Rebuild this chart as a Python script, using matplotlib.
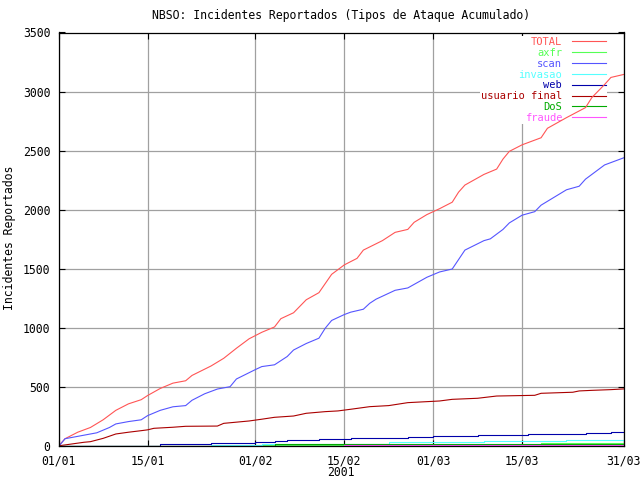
"""
NBSO incidents chart, gnuplot look-alike.
"""
import matplotlib
matplotlib.use("Agg")
import matplotlib.pyplot as plt
import matplotlib.dates as mdates
import pandas as pd

START = pd.Timestamp("2001-01-01")

# cumulative counts (day offset from 01/01, value)
total_days = [0, 1, 3, 5, 7, 9, 11, 13, 14, 16, 18, 20, 21, 24, 26, 28, 30, 32, 34, 35,
              37, 39, 41, 43, 45, 47, 48, 51, 53, 55, 56, 58, 60, 62, 63, 64, 67, 69, 70,
              71, 73, 74, 76, 77, 80, 83, 84, 86, 87, 89]
total_vals = [5, 65, 120, 160, 225, 305, 360, 395, 430, 490, 535, 555, 600, 680, 745, 830,
              910, 965, 1010, 1080, 1130, 1240, 1300, 1455, 1535, 1590, 1660, 1740, 1810,
              1835, 1895, 1960, 2010, 2065, 2150, 2210, 2300, 2345, 2430, 2495, 2550, 2570,
              2610, 2690, 2780, 2865, 2950, 3060, 3120, 3145]

scan_days = [0, 1, 4, 6, 8, 9, 11, 13, 14, 16, 18, 20, 21, 23, 25, 27, 28, 31, 32, 34, 36,
             37, 39, 41, 42, 43, 45, 46, 48, 49, 50, 53, 55, 58, 60, 62, 63, 64, 67, 68, 70,
             71, 73, 75, 76, 80, 82, 83, 86, 89]
scan_vals = [0, 65, 95, 115, 160, 190, 210, 225, 260, 305, 335, 345, 390, 445, 485, 505,
             570, 650, 675, 690, 760, 815, 870, 915, 1000, 1065, 1115, 1135, 1160, 1210,
             1245, 1320, 1340, 1430, 1475, 1500, 1580, 1660, 1740, 1755, 1835, 1890, 1955,
             1985, 2040, 2170, 2200, 2260, 2380, 2440]

usuario_days = [0, 2, 4, 5, 7, 9, 11, 13, 14, 15, 18, 20, 25, 26, 30, 32, 34, 37, 39, 42,
                44, 46, 49, 52, 55, 60, 62, 66, 69, 75, 76, 81, 82, 84, 87, 89]
usuario_vals = [5, 20, 35, 40, 68, 105, 120, 133, 140, 153, 162, 170, 172, 195, 215, 230,
                246, 257, 280, 294, 300, 314, 336, 345, 370, 384, 398, 407, 426, 432, 449,
                458, 469, 474, 480, 486]

# step-like series (value holds until next day listed)
web_days = [0, 8, 16, 24, 31, 34, 36, 41, 46, 55, 59, 66, 74, 83, 87, 89]
web_vals = [0, 6, 18, 26, 35, 46, 54, 63, 68, 77, 85, 94, 102, 111, 122, 122]

invasao_days = [0, 10, 24, 32, 44, 52, 67, 80, 89]
invasao_vals = [0, 5, 15, 20, 23, 33, 46, 52, 54]

dos_days = [0, 10, 34, 62, 76, 89]
dos_vals = [0, 5, 18, 20, 24, 24]

axfr_days = [0, 14, 30, 50, 76, 89]
axfr_vals = [0, 3, 8, 15, 30, 31]

fraude_days = [0, 25, 45, 62, 89]
fraude_vals = [0, 4, 8, 14, 18]

series = [
    ("TOTAL", total_days, total_vals, "#ff5555", "default"),
    ("axfr", axfr_days, axfr_vals, "#55ff55", "steps-post"),
    ("scan", scan_days, scan_vals, "#5555ff", "default"),
    ("invasao", invasao_days, invasao_vals, "#55ffff", "steps-post"),
    ("web", web_days, web_vals, "#0000aa", "steps-post"),
    ("usuario final", usuario_days, usuario_vals, "#aa0000", "default"),
    ("DoS", dos_days, dos_vals, "#00aa00", "steps-post"),
    ("fraude", fraude_days, fraude_vals, "#ff55ff", "steps-post"),
]

FONT = "DejaVu Sans Mono"
FS = 8.3
LEG_FS = 7.5
plt.rcParams["font.family"] = FONT
plt.rcParams["font.size"] = FS

fig = plt.figure(figsize=(6.4, 4.8), dpi=100)
ax = fig.add_axes([58.7 / 640, 1 - 446.4 / 480, (623.6 - 58.7) / 640, (446.4 - 32.5) / 480])

for name, days, vals, color, ds in series:
    x = [START + pd.Timedelta(days=d) for d in days]
    ax.plot(x, vals, color=color, lw=0.8, drawstyle=ds, label=name, zorder=2)

ax.set_xlim(START, pd.Timestamp("2001-03-31"))
ax.set_ylim(0, 3500)
ax.set_yticks(range(0, 3501, 500))
xt = pd.to_datetime(["2001-01-01", "2001-01-15", "2001-02-01", "2001-02-15",
                     "2001-03-01", "2001-03-15", "2001-03-31"])
ax.set_xticks(xt)
ax.xaxis.set_major_formatter(mdates.DateFormatter("%d/%m"))

ax.set_axisbelow(True)
ax.grid(True, color="#a0a0a0", lw=0.9)
ax.tick_params(direction="in", length=4, width=0.8, top=True, right=True,
               labelsize=FS, color="black")
ax.tick_params(axis="y", pad=6)
ax.tick_params(axis="x", pad=5.5)
for s in ax.spines.values():
    s.set_linewidth(0.9)
    s.set_zorder(3)

leg = ax.legend(loc="upper right", bbox_to_anchor=(607 / 640, 1 - 36 / 480),
                bbox_transform=fig.transFigure, markerfirst=False, frameon=True,
                fancybox=False, facecolor="white", edgecolor="none", framealpha=1,
                borderpad=0.1, borderaxespad=0, labelspacing=0.08,
                handlelength=3.3, handletextpad=0.9, fontsize=LEG_FS)
leg.set_zorder(1.5)
for txt, line in zip(leg.get_texts(), leg.get_lines()):
    txt.set_color(line.get_color())

fig.text(341 / 640, 1 - 15 / 480, "NBSO: Incidentes Reportados (Tipos de Ataque Acumulado)",
         ha="center", va="center", fontsize=FS)
fig.text(341 / 640, 1 - 472 / 480, "2001", ha="center", va="center", fontsize=FS)
fig.text(10 / 640, 1 - 238 / 480, "Incidentes Reportados", ha="center", va="center",
         rotation=90, fontsize=FS)

fig.savefig("out.png", dpi=100)
